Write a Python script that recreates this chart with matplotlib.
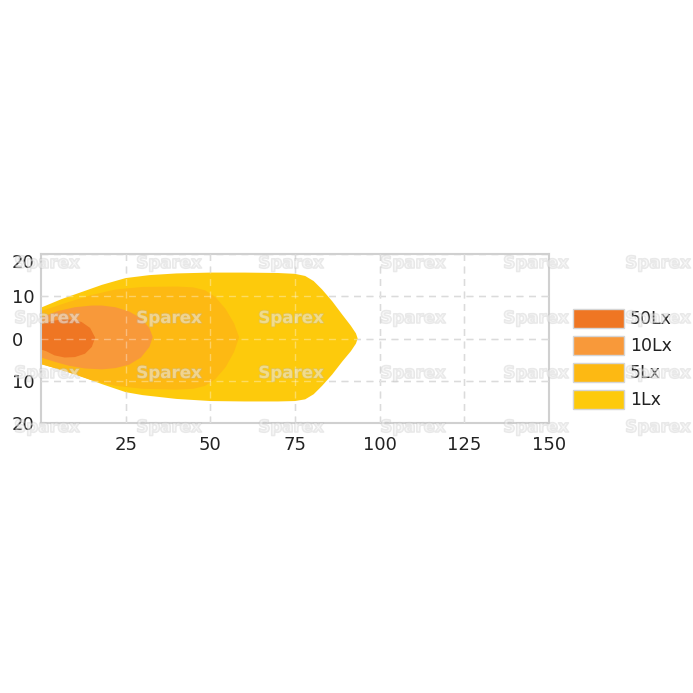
import matplotlib
matplotlib.use("Agg")
from matplotlib import pyplot as plt
from matplotlib.patches import Patch
import matplotlib.patheffects as pe

# isolux contours, distance (m) vs half-width (m)
lx1_x = [0, 6, 12, 18, 25, 32, 40, 50, 60, 70, 75, 78, 80.5, 83, 86, 89, 91.5, 93, 93.5,
         93, 91.5, 89, 86, 83, 80.5, 78, 75, 70, 60, 50, 40, 30, 25, 18, 12, 6, 0]
lx1_y = [7.3, 9.3, 11, 12.7, 14.3, 15, 15.4, 15.6, 15.6, 15.5, 15.3, 14.8, 13.6, 11.6, 8.8, 5.6, 3, 1.2, 0,
         -1.2, -3, -5.4, -8.5, -11.2, -13.2, -14.4, -14.8, -14.9, -14.9, -14.8, -14.3, -13.4, -12.7, -10.8, -9, -7.4, -6.1]

lx5_x = [0, 8, 15, 22, 30, 40, 45, 48.5, 51.5, 54.5, 57, 58.5,
         57, 54.5, 51.5, 48.5, 45, 40, 30, 22, 15, 8, 0]
lx5_y = [6.5, 8.6, 10.3, 11.6, 12.2, 12.3, 12.1, 11.4, 9.8, 7, 3.6, 0.3,
         -3.2, -6.8, -9.6, -11.2, -11.9, -12.1, -11.9, -11.2, -9.9, -8, -6]

lx10_x = [0, 5, 10, 15, 18, 22, 26, 29.5, 32, 33, 32, 29.5, 26, 22, 18, 13, 8, 4, 0]
lx10_y = [5, 6.5, 7.4, 7.8, 7.8, 7.4, 6.4, 4.8, 2.5, 0.3, -2, -4.5, -6.2, -7, -7.3, -7.1, -6.4, -5.5, -4.5]

lx50_x = [0, 3, 6, 9, 12, 14.5, 16, 15, 13, 10, 7, 4, 1.5, 0]
lx50_y = [3.3, 4.1, 4.5, 4.5, 3.9, 2.5, 0.2, -2, -3.6, -4.4, -4.5, -4, -3, -2.6]

contours = [(lx1_x, lx1_y), (lx5_x, lx5_y), (lx10_x, lx10_y), (lx50_x, lx50_y)]
colors = ['#FDCA0C', '#FDB913', '#F8993A', '#EF7623']
labels = ['1Lx', '5Lx', '10Lx', '50Lx']

xticks = [25, 50, 75, 100, 125, 150]
yticks = [-20, -10, 0, 10, 20]
ytick_labels = ['20', '10', '0', '10', '20']

fig = plt.figure(figsize=(6.93, 6.93), dpi=100)
ax = fig.add_axes([41 / 693, 1 - 423 / 693, 508 / 693, 169 / 693])

for (cx, cy), c in zip(contours, colors):
    ax.fill(cx, cy, color=c, lw=0, zorder=2)

ax.set_xlim(0, 150)
ax.set_ylim(-20, 20)
ax.set_xticks(xticks)
ax.set_yticks(yticks)
ax.set_yticklabels(ytick_labels)
ax.grid(True, color='#c8c8c8', linestyle=(0, (5, 4)), lw=1, zorder=1)
ax.set_axisbelow(True)
# grid shows through the light pattern as a pale dash
for v in xticks[:-1]:
    ax.axvline(v, color='white', alpha=0.35, linestyle=(0, (5, 4)), lw=1, zorder=3)
for v in [-10, 0, 10]:
    ax.axhline(v, color='white', alpha=0.35, linestyle=(0, (5, 4)), lw=1, zorder=3)
for s in ax.spines.values():
    s.set_color('#d0d0d0')
    s.set_linewidth(1.5)
ax.tick_params(length=0, labelsize=13, labelcolor='#222222')
ax.tick_params(axis='x', pad=9)
ax.tick_params(axis='y', pad=21)
for t in ax.get_yticklabels():
    t.set_horizontalalignment('left')
ax.get_yticklabels()[-1].set_verticalalignment('top')

# watermark
for wy in [263, 318, 373, 427]:
    for wx in [47, 169, 291, 413, 536, 658]:
        fig.text(wx / 693, 1 - wy / 693, 'Sparex', ha='center', va='center',
                 fontsize=12, fontweight='bold', color='#f4f4f4', alpha=0.3, zorder=5,
                 path_effects=[pe.withStroke(linewidth=1.2, foreground='#b8b8b8')])

handles = [Patch(facecolor=c, edgecolor='#d5d5d5', lw=1) for c in colors[::-1]]
ax.legend(handles, labels[::-1], loc='upper left', bbox_to_anchor=(1.047, 0.675),
          frameon=False, borderaxespad=0, borderpad=0, fontsize=12.5,
          handlelength=2.93, handleheight=1.27, labelspacing=0.46, handletextpad=0.35,
          labelcolor='#222222')

fig.savefig('out.png', dpi=100)
